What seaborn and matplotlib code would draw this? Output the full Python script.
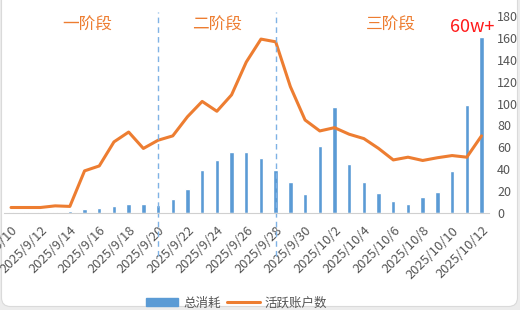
import matplotlib
matplotlib.use("Agg")
import matplotlib.pyplot as plt
from matplotlib.patches import Patch, FancyBboxPatch
from matplotlib.lines import Line2D
import seaborn as sns
import pandas as pd

dates = ["2025/9/10", "2025/9/11", "2025/9/12", "2025/9/13", "2025/9/14", "2025/9/15",
         "2025/9/16", "2025/9/17", "2025/9/18", "2025/9/19", "2025/9/20", "2025/9/21",
         "2025/9/22", "2025/9/23", "2025/9/24", "2025/9/25", "2025/9/26", "2025/9/27",
         "2025/9/28", "2025/9/29", "2025/9/30", "2025/10/1", "2025/10/2", "2025/10/3",
         "2025/10/4", "2025/10/5", "2025/10/6", "2025/10/7", "2025/10/8", "2025/10/9",
         "2025/10/10", "2025/10/11", "2025/10/12"]
total_spend = [1, 1, 1, 1, 1.5, 3.5, 4.5, 6.5, 8, 8, 7.5, 13, 22, 39, 48, 55.5, 56, 50,
               39, 28.5, 17.5, 61, 97, 45, 28.5, 18, 11, 8.5, 14.5, 19, 38.5, 98.5, 161]
active_accounts = [5, 5, 5, 6.5, 6, 38.5, 43, 65, 74, 59, 66.5, 70.5, 88, 102, 93, 108,
                   138, 159, 156.5, 115.5, 85, 75, 78, 72, 68, 59, 48.5, 51, 48, 50.5,
                   52.5, 51, 70.5]
phase_labels = ["一阶段", "二阶段", "三阶段"]
phase_dividers = ["2025/9/20", "2025/9/28"]
annotation = "60w+"
series_names = ["总消耗", "活跃账户数"]
y_ticks = list(range(0, 181, 20))

df = pd.DataFrame({"date": dates, "spend": total_spend, "active": active_accounts})

sns.set_theme(style="white")
plt.rcParams["font.family"] = ["Noto Sans CJK SC", "DejaVu Sans"]

BLUE = "#5B9BD5"
ORANGE = "#ED7D31"
GRAY = "#555555"

fig = plt.figure(figsize=(5.2, 3.1), dpi=100)
fig.patch.set_facecolor("#ececec")
card = FancyBboxPatch((0.015, 0.035), 5.16, 3.5,
                      boxstyle="round,pad=0,rounding_size=0.09",
                      transform=fig.dpi_scale_trans, facecolor="white",
                      edgecolor="#dadada", linewidth=0.8, zorder=-10)
fig.patches.append(card)

ax = fig.add_axes([0.0071, 0.313, 0.933, 0.635])
ax.patch.set_alpha(0)

sns.barplot(data=df, x="date", y="spend", color=BLUE, width=0.3, saturation=1, ax=ax)
sns.lineplot(data=df, x="date", y="active", color=ORANGE, linewidth=2.2, ax=ax, sort=False)

ax.set_xlim(-0.5, len(dates) - 0.5)
ax.set_ylim(0, 180)
ax.set_xlabel("")
ax.set_ylabel("")

# right y axis ticks
ax.yaxis.tick_right()
ax.set_yticks(y_ticks)
ax.tick_params(axis="y", length=0, labelsize=9, labelcolor=GRAY, pad=6)

# x ticks every 2 days
idx = list(range(0, len(dates), 2))
ax.set_xticks(idx)
ax.set_xticklabels([dates[i] for i in idx], rotation=45, ha="right",
                   rotation_mode="anchor", fontsize=9.3, color=GRAY)
ax.tick_params(axis="x", length=0, pad=8)
ax.set_xticks([i - 0.5 for i in idx], minor=True)
ax.tick_params(axis="x", which="minor", length=4, color="#cccccc", width=0.8)

for s in ["top", "left", "right"]:
    ax.spines[s].set_visible(False)
ax.spines["bottom"].set_color("#d0d0d0")
ax.spines["bottom"].set_linewidth(0.8)

# phase dividers
for d in phase_dividers:
    x = dates.index(d)
    ax.axvline(x, ymin=-0.22, ymax=1.02, color="#7FB2E5", linestyle=(0, (4, 3)),
               linewidth=1.0, clip_on=False)

# phase labels
phase_x = [5.2, 14.0, 25.8]
for lab, x in zip(phase_labels, phase_x):
    ax.text(x, 172, lab, color=ORANGE, fontsize=12, ha="center", va="center")

ax.text(31.4, 170.5, annotation, color="#FF1A1A",
        fontsize=13, ha="center", va="center")

handles = [Patch(facecolor=BLUE, edgecolor=BLUE),
           Line2D([0], [0], color=ORANGE, linewidth=2.2)]
leg = fig.legend(handles, series_names, loc="lower center", bbox_to_anchor=(0.455, -0.035),
                 ncol=2, frameon=False, fontsize=9, handlelength=2.6, handleheight=0.6,
                 columnspacing=0.5, handletextpad=0.4)
for t in leg.get_texts():
    t.set_color(GRAY)

fig.savefig("out.png", dpi=100, facecolor=fig.get_facecolor())
